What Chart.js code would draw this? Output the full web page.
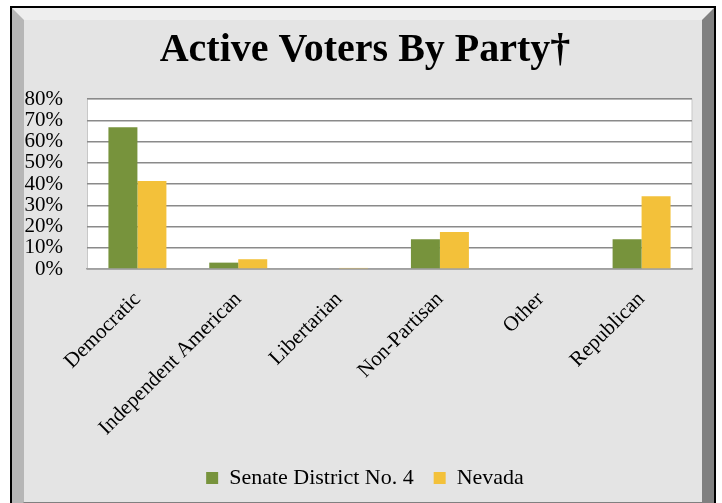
<!DOCTYPE html>
<html>
<head>
<meta charset="utf-8">
<script src="https://cdn.jsdelivr.net/npm/chart.js@4"></script>
<style>
  html, body { margin: 0; padding: 0; background: #ffffff; overflow: hidden; }
  #frame {
    position: absolute; left: 10px; top: 6px;
    border: 2px solid #000000; box-sizing: border-box; width: 706px; height: 510px;
  }
  #bevel {
    position: absolute; left: 0; top: 0; right: 0; bottom: 0;
    border-style: solid; border-width: 12px;
    border-color: #eeeeee #808080 #808080 #b6b6b6;
    background: #e4e4e4;
  }
  #wrap { position: absolute; left: 0; top: 0; width: 722px; height: 503px; }
</style>
</head>
<body>
<div id="frame"><div id="bevel"></div></div>
<div id="wrap"><canvas id="c" width="722" height="503"></canvas></div>
<script>
const categories = ["Democratic", "Independent American", "Libertarian", "Non-Partisan", "Other", "Republican"];
const seriesNames = ["Senate District No. 4", "Nevada"];
const senateValues = [66.7, 3.0, 0, 14.0, 0, 14.0];
const nevadaValues = [41.4, 4.6, 0.5, 17.4, 0, 34.2];
const yTicks = [0, 10, 20, 30, 40, 50, 60, 70, 80];
const titleText = "Active Voters By Party\u2020";

const serif = '"Liberation Serif", "Times New Roman", serif';

const plotBg = {
  id: 'plotBg',
  beforeDraw(chart) {
    const a = chart.chartArea, ctx = chart.ctx;
    ctx.save();
    ctx.fillStyle = '#ffffff';
    ctx.fillRect(a.left, a.top, a.right - a.left, a.bottom - a.top);
    ctx.strokeStyle = '#c8c8c8';
    ctx.lineWidth = 1;
    ctx.strokeRect(a.left + 0.5, a.top, a.right - a.left - 0.5, a.bottom - a.top);
    ctx.restore();
  }
};

new Chart(document.getElementById('c'), {
  type: 'bar',
  data: {
    labels: categories,
    datasets: [
      { label: seriesNames[0], data: senateValues, backgroundColor: '#77933C', borderWidth: 0,
        categoryPercentage: 0.575, barPercentage: 1.0 },
      { label: seriesNames[1], data: nevadaValues, backgroundColor: '#F3C13A', borderWidth: 0,
        categoryPercentage: 0.575, barPercentage: 1.0 }
    ]
  },
  options: {
    responsive: false,
    animation: false,
    layout: { padding: { left: 22, right: 14, top: 0, bottom: 4 } },
    plugins: {
      title: {
        display: true, text: titleText, color: '#000000',
        font: { family: serif, size: 40, weight: 'bold' },
        padding: { top: 27, bottom: 24 }
      },
      legend: {
        position: 'bottom',
        labels: {
          color: '#000000', font: { family: serif, size: 22 },
          boxWidth: 12, boxHeight: 12, padding: 20
        }
      },
      tooltip: { enabled: false }
    },
    scales: {
      x: {
        grid: { display: false, drawTicks: false },
        border: { display: true, color: '#a0a0a0', width: 1.5 },
        ticks: {
          color: '#000000', font: { family: serif, size: 21 },
          maxRotation: 45, minRotation: 45, padding: 18, autoSkip: false
        },
        afterFit(s) { s.height = 178; }
      },
      y: {
        min: 0, max: 80,
        afterBuildTicks(s) { s.ticks = yTicks.map(v => ({ value: v })); },
        grid: { color: '#8a8a8a', lineWidth: 1.5, drawTicks: false },
        border: { display: false },
        ticks: {
          color: '#000000', font: { family: serif, size: 21 }, padding: 24,
          autoSkip: false, callback: v => v + '%'
        },
        afterFit(s) { s.width = 65; }
      },
      spacer: {
        type: 'linear', position: 'right', display: true,
        grid: { display: false, drawTicks: false },
        border: { display: false },
        ticks: { display: false },
        afterFit(s) { s.width = 16; }
      }
    }
  },
  plugins: [plotBg]
});
</script>
</body>
</html>
